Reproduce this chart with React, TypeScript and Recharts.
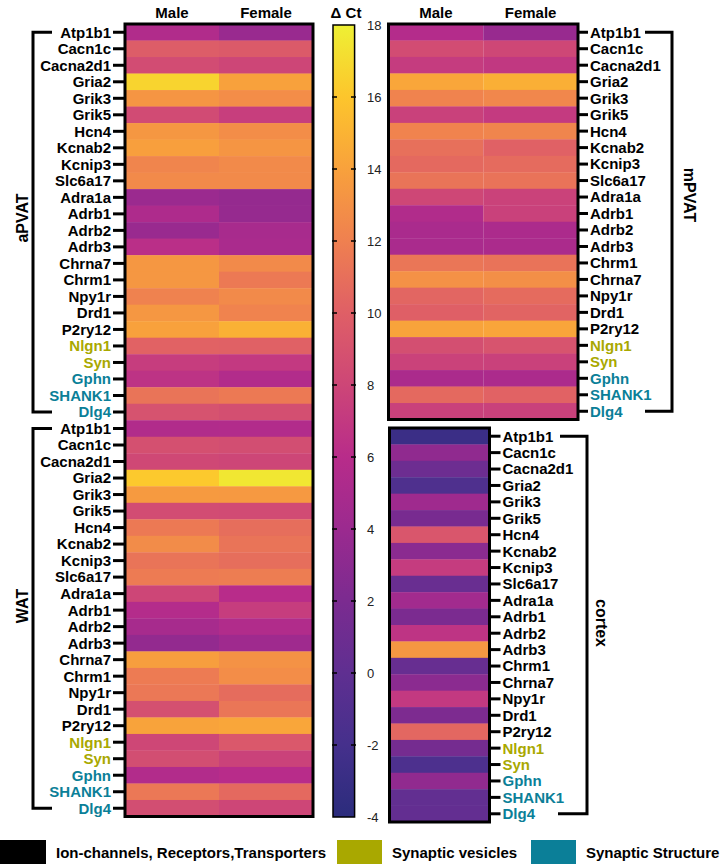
import { BarChart, Bar, XAxis, YAxis, Cell, ReferenceLine } from "recharts";

const FONT = "'Liberation Sans', Arial, Helvetica, sans-serif";
const OLIVE = "#a9a800";
const TEAL = "#0b7f98";

// gene order as printed on the left panels and on the right panels
const GENES_LEFT = ["Atp1b1", "Cacn1c", "Cacna2d1", "Gria2", "Grik3", "Grik5", "Hcn4", "Kcnab2", "Kcnip3", "Slc6a17", "Adra1a", "Adrb1", "Adrb2", "Adrb3", "Chrna7", "Chrm1", "Npy1r", "Drd1", "P2ry12", "Nlgn1", "Syn", "Gphn", "SHANK1", "Dlg4"];
const GENES_RIGHT = ["Atp1b1", "Cacn1c", "Cacna2d1", "Gria2", "Grik3", "Grik5", "Hcn4", "Kcnab2", "Kcnip3", "Slc6a17", "Adra1a", "Adrb1", "Adrb2", "Adrb3", "Chrm1", "Chrna7", "Npy1r", "Drd1", "P2ry12", "Nlgn1", "Syn", "Gphn", "SHANK1", "Dlg4"];
const VESICLE_GENES = ["Nlgn1", "Syn"];
const STRUCTURE_GENES = ["Gphn", "SHANK1", "Dlg4"];

// ΔCt values
const APVAT_MALE = [5.5, 9.8, 8.5, 16.7, 13.3, 8.4, 13.4, 13.9, 12.3, 12.6, 4.0, 5.3, 3.9, 6.2, 13.4, 13.4, 12.1, 13.4, 14.0, 10.2, 7.3, 6.5, 11.3, 9.0];
const APVAT_FEMALE = [3.9, 9.6, 8.0, 14.0, 12.8, 7.4, 12.8, 13.3, 12.6, 12.6, 3.6, 3.7, 4.9, 5.0, 12.6, 11.6, 12.6, 12.2, 14.9, 10.1, 7.0, 5.6, 11.6, 8.7];
const WAT_MALE = [5.5, 8.8, 8.2, 16.2, 13.6, 8.5, 11.6, 12.7, 11.3, 11.7, 8.0, 5.7, 4.8, 3.5, 13.8, 11.7, 11.5, 8.8, 14.1, 8.1, 8.6, 5.6, 11.5, 8.6];
const WAT_FEMALE = [5.6, 8.6, 8.0, 17.6, 13.5, 8.4, 10.9, 11.3, 10.9, 11.8, 6.0, 7.3, 5.5, 4.3, 13.1, 12.8, 10.8, 11.4, 14.3, 9.4, 7.7, 6.0, 10.6, 8.0];
const MPVAT_MALE = [5.7, 8.5, 7.2, 14.3, 12.2, 7.6, 12.2, 11.0, 10.6, 11.3, 8.1, 5.5, 5.0, 5.0, 11.4, 13.0, 10.4, 10.0, 14.1, 8.7, 7.7, 5.1, 10.6, 7.6];
const MPVAT_FEMALE = [3.8, 8.1, 6.9, 14.8, 12.4, 7.1, 12.3, 10.1, 10.7, 11.2, 7.7, 7.6, 5.2, 5.1, 11.2, 12.9, 10.7, 10.3, 14.2, 9.1, 7.6, 5.2, 10.2, 7.6];
const CORTEX = [-2.8, 3.3, 1.0, -1.2, 4.3, 1.8, 9.3, 3.0, 7.2, 0.7, 4.5, 2.0, 6.6, 13.4, 0.6, 3.0, 7.0, 2.1, 10.5, 1.6, -1.4, 3.4, 0.2, 0.3];

const CB_TICKS = [-4, -2, 0, 2, 4, 6, 8, 10, 12, 14, 16, 18];
const COLUMNS = ["Male", "Female"];

// colour scale (value -> colour)
const CMAP: [number, string][] = [
  [-4, "#2b2c7c"], [-2, "#45308c"], [0, "#5f2f91"], [2, "#7b2b90"], [4, "#9b2a8f"], [6, "#b82c8a"],
  [8, "#cd4677"], [10, "#df5f66"], [12, "#ef8050"], [14, "#f8a13c"], [16, "#fdc52c"], [18, "#eef034"],
];

const hex = (c: string) => [1, 3, 5].map((i) => parseInt(c.slice(i, i + 2), 16));
function cmap(v: number) {
  if (v <= CMAP[0][0]) return CMAP[0][1];
  for (let i = 1; i < CMAP.length; i++) {
    if (v <= CMAP[i][0]) {
      const [v0, c0] = CMAP[i - 1];
      const [v1, c1] = CMAP[i];
      const t = (v - v0) / (v1 - v0);
      const a = hex(c0), b = hex(c1);
      return `rgb(${a.map((x, k) => Math.round(x + (b[k] - x) * t)).join(",")})`;
    }
  }
  return CMAP[CMAP.length - 1][1];
}

const geneColor = (g: string) => (VESICLE_GENES.includes(g) ? OLIVE : STRUCTURE_GENES.includes(g) ? TEAL : "#000");

function GeneTick(props: any) {
  const { x, y, payload, textAnchor } = props;
  const gene = String(payload.value).split("|")[1];
  return (
    <text x={x} y={y} dy="0.36em" textAnchor={textAnchor} fill={geneColor(gene)} fontSize={15} fontWeight={700} fontFamily={FONT}>
      {gene}
    </text>
  );
}

// heat cell: the bar rect, padded a little so neighbouring rows meet without a seam
function HeatCell(props: any) {
  const { x, y, width, height, payload, valueKey } = props;
  const c = cmap(payload[valueKey]);
  return <rect x={x} y={y - 1} width={width} height={height + 2} fill={c} />;
}

const rowsOf = (group: string, genes: string[], mv: number[], fv?: number[]) =>
  genes.map((g, i) => ({ id: `${group}|${g}`, male: 1, female: 1, mv: mv[i], fv: fv ? fv[i] : 0 }));

const leftRows = [...rowsOf("aPVAT", GENES_LEFT, APVAT_MALE, APVAT_FEMALE), ...rowsOf("WAT", GENES_LEFT, WAT_MALE, WAT_FEMALE)];
const mpvatRows = rowsOf("mPVAT", GENES_RIGHT, MPVAT_MALE, MPVAT_FEMALE);
const cortexRows = rowsOf("cortex", GENES_RIGHT, CORTEX);
const cbData = [{ k: "cb", range: [CB_TICKS[0], CB_TICKS[CB_TICKS.length - 1]] }];

// layout
const W = 720, H = 864;
const L = { x0: 125, x1: 313, y0: 24, y1: 816.5 };
const M = { x0: 388.5, x1: 578, y0: 24, y1: 419.5 };
const C = { x0: 389.5, x1: 489.5, y0: 428, y1: 822 };
const CB = { x0: 332, x1: 356, y0: 25, y1: 817 };
const rowY = (b: typeof L, n: number, i: number) => b.y0 + ((b.y1 - b.y0) / n) * (i + 0.5);

const headerTick = { fontSize: 15, fontWeight: 700, fill: "#000", fontFamily: FONT };
const abs: React.CSSProperties = { position: "absolute", left: 0, top: 0 };

export default function App() {
  const lRow = (L.y1 - L.y0) / leftRows.length;
  const mRow = (M.y1 - M.y0) / mpvatRows.length;
  const cRow = (C.y1 - C.y0) / cortexRows.length;
  const n = GENES_LEFT.length;
  const aTop = rowY(L, 48, 0), aBot = rowY(L, 48, n - 1);
  const wTop = rowY(L, 48, n), wBot = rowY(L, 48, 2 * n - 1);
  const mTop = rowY(M, n, 0), mBot = rowY(M, n, n - 1);
  const cTop = rowY(C, n, 0), cBot = rowY(C, n, n - 1);
  const legend = [
    { c: "#000", t: "Ion-channels, Receptors,Transporters", x: 0, w: 46 },
    { c: OLIVE, t: "Synaptic vesicles", x: 337, w: 45 },
    { c: TEAL, t: "Synaptic Structure", x: 531, w: 45 },
  ];

  return (
    <div style={{ ...abs, width: W, height: H, background: "#fff", fontFamily: FONT }}>
      <svg width={0} height={0} style={{ position: "absolute" }}>
        <defs>
          <linearGradient id="cbGrad" x1="0" y1="0" x2="0" y2="1">
            {CMAP.slice().reverse().map(([v, c]) => (
              <stop key={v} offset={`${((18 - v) / 22) * 100}%`} stopColor={c} />
            ))}
          </linearGradient>
        </defs>
      </svg>

      {/* aPVAT + WAT */}
      <div style={abs}>
        <BarChart width={W} height={H} data={leftRows} layout="vertical" barCategoryGap={0} barGap={0} barSize={lRow}
          margin={{ top: 0, right: W - L.x1, bottom: H - L.y1, left: 0 }}>
          <XAxis type="number" orientation="top" domain={[0, 2]} ticks={[0.5, 1.5]} height={L.y0}
            tickFormatter={(v: number) => COLUMNS[Math.floor(v)]} axisLine={false} tickLine={false} tickSize={0} tickMargin={6} tick={headerTick} />
          <YAxis type="category" dataKey="id" width={L.x0} interval={0} axisLine={false}
            tickLine={{ stroke: "#000", strokeWidth: 3 }} tickSize={12} tickMargin={2} tick={<GeneTick />} />
          <Bar dataKey="male" stackId="s" isAnimationActive={false} shape={(p: any) => <HeatCell {...p} valueKey="mv" />} />
          <Bar dataKey="female" stackId="s" isAnimationActive={false} shape={(p: any) => <HeatCell {...p} valueKey="fv" />} />
        </BarChart>
      </div>

      {/* mPVAT */}
      <div style={abs}>
        <BarChart width={W} height={H} data={mpvatRows} layout="vertical" barCategoryGap={0} barGap={0} barSize={mRow}
          margin={{ top: 0, right: 0, bottom: H - M.y1, left: M.x0 }}>
          <XAxis type="number" orientation="top" domain={[0, 2]} ticks={[0.5, 1.5]} height={M.y0}
            tickFormatter={(v: number) => COLUMNS[Math.floor(v)]} axisLine={false} tickLine={false} tickSize={0} tickMargin={6} tick={headerTick} />
          <YAxis type="category" dataKey="id" orientation="right" width={W - M.x1} interval={0} axisLine={false}
            tickLine={{ stroke: "#000", strokeWidth: 3 }} tickSize={10} tickMargin={2} tick={<GeneTick />} />
          <Bar dataKey="male" stackId="s" isAnimationActive={false} shape={(p: any) => <HeatCell {...p} valueKey="mv" />} />
          <Bar dataKey="female" stackId="s" isAnimationActive={false} shape={(p: any) => <HeatCell {...p} valueKey="fv" />} />
        </BarChart>
      </div>

      {/* cortex */}
      <div style={abs}>
        <BarChart width={W} height={H} data={cortexRows} layout="vertical" barCategoryGap={0} barGap={0} barSize={cRow}
          margin={{ top: C.y0, right: W - C.x1 - 120, bottom: H - C.y1, left: C.x0 }}>
          <XAxis type="number" domain={[0, 1]} hide />
          <YAxis type="category" dataKey="id" orientation="right" width={120} interval={0} axisLine={false}
            tickLine={{ stroke: "#000", strokeWidth: 3 }} tickSize={11} tickMargin={2} tick={<GeneTick />} />
          <Bar dataKey="male" isAnimationActive={false} shape={(p: any) => <HeatCell {...p} valueKey="mv" />} />
        </BarChart>
      </div>

      {/* colour bar */}
      <div style={abs}>
        <BarChart width={W} height={H} data={cbData} barCategoryGap={0} barSize={CB.x1 - CB.x0}
          margin={{ top: CB.y0, right: W - CB.x1 - 40, bottom: H - CB.y1, left: CB.x0 }}>
          <XAxis type="category" dataKey="k" hide />
          <YAxis type="number" orientation="right" domain={[-4, 18]} ticks={CB_TICKS} width={40} axisLine={false}
            tickLine={false} tickSize={0} tickMargin={11} tick={{ fontSize: 13, fill: "#222", fontFamily: FONT, textAnchor: "start" }} />
          <Bar dataKey="range" fill="url(#cbGrad)" stroke="#000" strokeWidth={1.5} isAnimationActive={false} />
          {CB_TICKS.slice(1, -1).map((v) => (
            <ReferenceLine key={v} y={v} stroke="#000" strokeWidth={1.5} strokeDasharray="5 14 5" />
          ))}
        </BarChart>
      </div>

      {/* frames, brackets, group labels */}
      <svg width={W} height={H} style={{ ...abs, pointerEvents: "none" }} fontFamily={FONT}>
        <g fill="none" stroke="#000" strokeWidth={3}>
          <rect x={L.x0} y={L.y0} width={L.x1 - L.x0} height={L.y1 - L.y0} />
          <rect x={M.x0} y={M.y0} width={M.x1 - M.x0} height={M.y1 - M.y0} />
          <rect x={C.x0} y={C.y0} width={C.x1 - C.x0} height={C.y1 - C.y0} />
          <polyline points={`52,${aTop} 33,${aTop} 33,${aBot} 52,${aBot}`} />
          <polyline points={`52,${wTop} 33,${wTop} 33,${wBot} 52,${wBot}`} />
          <polyline points={`645,${mTop} 672,${mTop} 672,${mBot} 645,${mBot}`} />
          <polyline points={`560,${cTop} 587,${cTop} 587,${cBot} 558,${cBot}`} />
        </g>
        <g fontSize={16} fontWeight={700} fill="#000" textAnchor="middle" dominantBaseline="central">
          <text transform="translate(22,218) rotate(-90)">aPVAT</text>
          <text transform="translate(22,606) rotate(-90)">WAT</text>
          <text transform="translate(689,195) rotate(90)">mPVAT</text>
          <text transform="translate(601,623) rotate(90)">cortex</text>
        </g>
        <text x={346} y={18} fontSize={15} fontWeight={700} textAnchor="middle">Δ Ct</text>
      </svg>

      {/* legend */}
      {legend.map((l) => (
        <div key={l.t} style={{ position: "absolute", left: l.x, top: 840, height: 24, display: "flex", alignItems: "center" }}>
          <div style={{ width: l.w, height: 24, background: l.c }} />
          <span style={{ marginLeft: 10, fontSize: 15, fontWeight: 700, color: "#000", whiteSpace: "nowrap" }}>{l.t}</span>
        </div>
      ))}
    </div>
  );
}
